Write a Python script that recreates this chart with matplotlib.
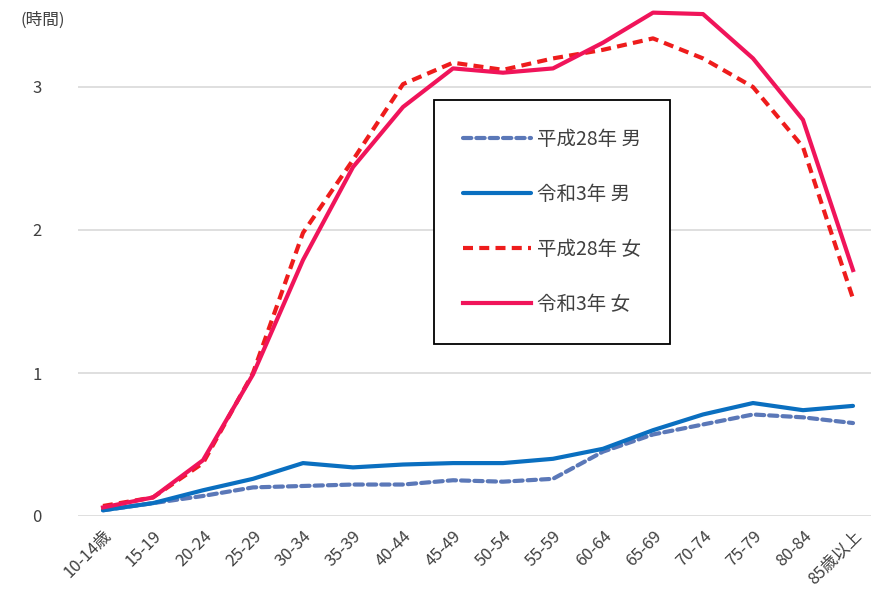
import numpy as np
import matplotlib
matplotlib.use("Agg")
import matplotlib.pyplot as plt

plt.rcParams['font.family'] = ['Noto Sans CJK JP', 'DejaVu Sans']

# age groups
ages = ["10-14歳", "15-19", "20-24", "25-29", "30-34", "35-39", "40-44", "45-49",
        "50-54", "55-59", "60-64", "65-69", "70-74", "75-79", "80-84", "85歳以上"]

# hours per day
h28_male = [0.04, 0.09, 0.14, 0.20, 0.21, 0.22, 0.22, 0.25,
            0.24, 0.26, 0.45, 0.57, 0.64, 0.71, 0.69, 0.65]
r3_male = [0.04, 0.09, 0.18, 0.26, 0.37, 0.34, 0.36, 0.37,
           0.37, 0.40, 0.47, 0.60, 0.71, 0.79, 0.74, 0.77]
h28_female = [0.07, 0.13, 0.37, 1.00, 1.98, 2.49, 3.02, 3.17,
              3.12, 3.20, 3.26, 3.34, 3.20, 3.00, 2.58, 1.52]
r3_female = [0.06, 0.13, 0.39, 0.99, 1.79, 2.44, 2.86, 3.13,
             3.10, 3.13, 3.31, 3.52, 3.51, 3.20, 2.77, 1.72]

fig = plt.figure(figsize=(8.71, 6.12), dpi=100)
ax = fig.add_axes([78 / 871, 96 / 612, 800 / 871, 3.6 * 143 / 612])

x = np.arange(len(ages))
ax.plot(x, h28_male, color="#5b78b8", lw=3.0, dashes=(2.0, 1.2),
        dash_capstyle="round", label="平成28年 男")
ax.plot(x, r3_male, color="#0a6fc0", lw=3.0, solid_capstyle="round",
        label="令和3年 男")
ax.plot(x, h28_female, color="#ee1c1c", lw=3.0, dashes=(2.4, 1.5),
        label="平成28年 女")
ax.plot(x, r3_female, color="#f0145a", lw=3.0, label="令和3年 女")

ax.set_xlim(-0.5, len(ages) - 0.5)
ax.set_ylim(0, 3.6)
ax.set_yticks([0, 1, 2, 3])
ax.yaxis.grid(True, color="#d9d9d9", lw=1.2)
ax.set_axisbelow(True)
for s in ax.spines.values():
    s.set_visible(False)
ax.tick_params(length=0, labelsize=12, colors="#404040")
ax.tick_params(axis="y", pad=26)
ax.set_xticks(x)
ax.set_xticklabels(ages, rotation=45, ha="right", rotation_mode="anchor")
ax.tick_params(axis="x", pad=8)

fig.text(20 / 871, 1 - 20 / 612, "(時間)", fontsize=12, color="#404040",
         va="center", ha="left")

leg = ax.legend(loc="upper left", bbox_to_anchor=(434 / 871, 1 - 100 / 612),
                bbox_transform=fig.transFigure, fontsize=14, handlelength=3.5,
                handletextpad=0.3, labelspacing=1.75, borderpad=1.5,
                borderaxespad=0, fancybox=False, framealpha=1)
leg.get_frame().set_edgecolor("black")
leg.get_frame().set_linewidth(1.3)
for t in leg.get_texts():
    t.set_color("#404040")

fig.savefig("out.png", dpi=100)
